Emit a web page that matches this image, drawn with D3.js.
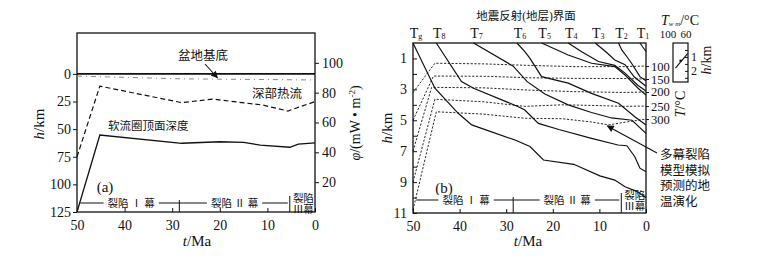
<!DOCTYPE html>
<html>
<head>
<meta charset="utf-8">
<script src="https://cdn.jsdelivr.net/npm/d3@7"></script>
<style>
  body { margin: 0; background: #fff; }
  svg { display: block; }
  text { font-family: "Liberation Serif", "Noto Sans CJK SC", serif; fill: #111; }
</style>
</head>
<body>
<svg id="chart" width="758" height="257"></svg>
<script>
// ---- data ----
const ageTicks = [50, 40, 30, 20, 10, 0]
const depthTicksA = [0, 25, 50, 75, 100, 125]
const flowTicks = [20, 40, 60, 80, 100]
const depthTicksB = [1, 2, 3, 4, 5, 6, 7, 8, 9, 10, 11]

// (a) asthenosphere top depth, km
const asthAge = [50, 45.2, 28, 20, 15, 11.5, 5.3, 3.5, 0]
const asthDepth = [125, 55.3, 62.8, 61.4, 62, 64.4, 66.4, 63.5, 62.4]
// (a) deep heat flow, mW/m2
const flowAge = [50, 45.2, 28, 21.5, 11, 5.7, 0]
const flowValue = [37, 84.4, 73.3, 75.7, 71.7, 67.7, 74]
// (a) basin basement, km
const baseAge = [50, 28, 0]
const baseDepth = [2, 4.5, 5.5]

// rifting phases
const phaseFrom = [50, 28.5, 5.3]
const phaseTo = [28.5, 5.3, 0]
const phaseNames = ["裂陷 Ⅰ 幕", "裂陷 Ⅱ 幕", "裂陷Ⅲ幕"]

// (b) seismic horizons: burial paths (age, depth)
const horizonNames = ["g", "8", "7", "6", "5", "4", "3", "2", "1"]
const horizonAge = [
  [50, 45.3, 40.3, 37.4, 28.1, 24.9, 22, 15.5, 9.9, 6.7, 4.5, 2, 0],
  [45, 39.6, 37, 27.4, 26, 23.1, 18.7, 11.7, 6, 4.1, 2.4, 1.3, 0],
  [37, 28.5, 25.5, 21.7, 16.7, 11.7, 7.4, 3, 0],
  [27.7, 26, 24.9, 22.4, 16.7, 11.7, 5.9, 2.4, 0],
  [22.4, 16.7, 11.7, 6.7, 4.5, 1.7, 0],
  [16.7, 13.8, 10.2, 6.7, 4.5, 1.7, 0],
  [10.9, 8.5, 6.7, 4.5, 2.5, 0],
  [5.9, 5.2, 4.1, 3.1, 1.3, 0],
  [1.3, 0]
]
const horizonDepth = [
  [0, 2.93, 4.55, 5.3, 6.28, 6.7, 7.57, 7.85, 8.6, 8.87, 9.3, 9.6, 10.0],
  [0, 2.5, 2.93, 4.12, 4.34, 5.2, 5.6, 6.17, 6.6, 6.65, 7.36, 8.1, 8.33],
  [0, 1.5, 2.5, 3.3, 4.0, 4.5, 4.85, 5.0, 5.85],
  [0, 0.56, 1.0, 2.18, 2.6, 3.26, 3.9, 4.77, 5.3],
  [0, 0.78, 1.31, 1.53, 2.07, 2.93, 3.37],
  [0, 0.56, 1.2, 1.45, 1.95, 2.75, 3.1],
  [0, 0.6, 1.1, 1.4, 2.2, 2.8],
  [0, 0.45, 0.89, 1.31, 2.18, 2.45],
  [0, 0.55]
]

// (b) isotherms (age, depth)
const isoTemps = [100, 150, 200, 250, 300]
const isoAge = [
  [50, 45.3, 35, 25, 15, 5, 0],
  [50, 45.6, 35, 25, 15, 5, 0],
  [50, 46, 35, 25, 15, 5, 0],
  [50, 45.3, 35, 26, 18, 10, 5, 0],
  [50, 45, 35, 26, 18, 12, 8, 4, 0]
]
const isoDepth = [
  [3.2, 1.31, 1.35, 1.45, 1.53, 1.53, 1.49],
  [5.0, 2.14, 2.15, 2.25, 2.29, 2.3, 2.33],
  [7.0, 2.87, 2.9, 3.05, 3.15, 3.2, 3.17],
  [9.0, 3.64, 3.8, 4.1, 4.0, 4.05, 4.1, 4.08],
  [10.8, 4.45, 4.6, 4.87, 4.9, 5.1, 5.3, 5.1, 4.92]
]

// inset: well temperature vs depth
const wellTicksT = [100, 60]
const wellTemp = [83.5, 56]
const wellDepth = [1.8, 0.75]
const wellDepthTicks = [0.5, 1, 1.5, 2, 2.5]

const noteLines = ["多幕裂陷", "模型模拟", "预测的地", "温演化"]

// ---- drawing ----
const svg = d3.select("#chart")

const xA = d3.scaleLinear().domain([50, 0]).range([77, 315])
const yA = d3.scaleLinear().domain([-37, 125]).range([33, 212])
const fA = d3.scaleLinear().domain([0, 120]).range([212, 33])

const xB = d3.scaleLinear().domain([50, 0]).range([413, 646])
const yB = d3.scaleLinear().domain([0, 11]).range([43, 213])

const defs = svg.append("defs")
defs.append("marker")
    .attr("id", "arrow")
    .attr("viewBox", "0 0 10 10")
    .attr("refX", 9).attr("refY", 5)
    .attr("markerWidth", 9).attr("markerHeight", 7)
    .attr("markerUnits", "userSpaceOnUse")
    .attr("orient", "auto")
  .append("path")
    .attr("d", "M0,0L10,5L0,10z")
    .attr("fill", "#111")

function styleAxis(g, size) {
  g.select(".domain").remove()
  g.selectAll(".tick line").attr("stroke", "#111")
  g.selectAll(".tick text").attr("font-size", size).attr("fill", "#111")
}

// ===== panel (a) =====
const ga = svg.append("g")

ga.append("g")
    .attr("transform", "translate(0,212)")
    .call(d3.axisBottom(xA).tickValues(ageTicks).tickSizeInner(-4).tickSizeOuter(0).tickPadding(8))
    .call(g => styleAxis(g, 14))

ga.append("g")
    .attr("transform", "translate(77,0)")
    .call(d3.axisLeft(yA).tickValues(depthTicksA).tickSize(4).tickSizeOuter(0).tickPadding(2))
    .call(g => styleAxis(g, 14))

ga.append("g")
    .attr("transform", "translate(315,0)")
    .call(d3.axisRight(fA).tickValues(flowTicks).tickSize(4).tickSizeOuter(0).tickPadding(3))
    .call(g => styleAxis(g, 14))

ga.append("rect")
    .attr("x", xA(50)).attr("y", 33)
    .attr("width", xA(0) - xA(50)).attr("height", 212 - 33)
    .attr("fill", "none").attr("stroke", "#111").attr("stroke-width", 1.3)

// surface line h=0
ga.append("line")
    .attr("x1", xA(50)).attr("x2", xA(0))
    .attr("y1", yA(0)).attr("y2", yA(0))
    .attr("stroke", "#111").attr("stroke-width", 1.6)

const lineA = d3.line().x(d => xA(d[0])).y(d => yA(d[1]))
const lineF = d3.line().x(d => xA(d[0])).y(d => fA(d[1]))

ga.append("path")
    .attr("d", lineA(d3.zip(baseAge, baseDepth)))
    .attr("fill", "none").attr("stroke", "#888").attr("stroke-width", 1)
    .attr("stroke-dasharray", "5,4,1,4")

ga.append("path")
    .attr("d", lineF(d3.zip(flowAge, flowValue)))
    .attr("fill", "none").attr("stroke", "#111").attr("stroke-width", 1.2)
    .attr("stroke-dasharray", "5,3")

ga.append("path")
    .attr("d", lineA(d3.zip(asthAge, asthDepth)))
    .attr("fill", "none").attr("stroke", "#111").attr("stroke-width", 1.3)

ga.append("text").attr("x", 203).attr("y", 60).attr("text-anchor", "middle")
    .attr("font-size", 12.5).text("盆地基底")
ga.append("line")
    .attr("x1", 205).attr("y1", 64)
    .attr("x2", xA(20.5)).attr("y2", yA(4.4) - 1)
    .attr("stroke", "#111").attr("stroke-width", 1.1)
    .attr("marker-end", "url(#arrow)")

ga.append("text").attr("x", 252).attr("y", 98).attr("font-size", 12.5).text("深部热流")
ga.append("text").attr("x", 108).attr("y", 130).attr("font-size", 11.5).text("软流圈顶面深度")
ga.append("text").attr("x", 105).attr("y", 192).attr("text-anchor", "middle")
    .attr("font-size", 15).text("(a)")

ga.append("text")
    .attr("transform", "translate(44,124) rotate(-90)")
    .attr("text-anchor", "middle").attr("font-size", 15)
    .call(t => {
      t.append("tspan").attr("font-style", "italic").text("h")
      t.append("tspan").text("/km")
    })

ga.append("text")
    .attr("transform", "translate(360,123) rotate(-90)")
    .attr("text-anchor", "middle").attr("font-size", 14)
    .call(t => {
      t.append("tspan").attr("font-style", "italic").text("φ")
      t.append("tspan").text("/(mW • m")
      t.append("tspan").attr("font-size", 9).attr("dy", -5).text("-2")
      t.append("tspan").attr("dy", 5).text(")")
    })

ga.append("text")
    .attr("x", 197).attr("y", 246).attr("text-anchor", "middle").attr("font-size", 15)
    .call(t => {
      t.append("tspan").attr("font-style", "italic").text("t")
      t.append("tspan").text("/Ma")
    })

// phase bar
function phaseBar(g, x, barY, bottom) {
  const bounds = phaseFrom.slice(1)
  g.append("line")
      .attr("x1", x(49.3)).attr("x2", x(phaseTo[1]) - 2)
      .attr("y1", barY).attr("y2", barY)
      .attr("stroke", "#111").attr("stroke-width", 1)
  bounds.forEach((b, i) => {
    g.append("line")
        .attr("x1", x(b)).attr("x2", x(b))
        .attr("y1", barY - (i ? 7 : 3)).attr("y2", bottom)
        .attr("stroke", "#111").attr("stroke-width", 1)
  })
  for (let i = 0; i < 2; i++) {
    const cx = (x(phaseFrom[i]) + x(phaseTo[i])) / 2 + (i === 0 ? 3 : 0)
    const lg = g.append("g")
    const bg = lg.append("rect").attr("fill", "#fff")
    const t = lg.append("text")
        .attr("x", cx).attr("y", barY + 3.5)
        .attr("text-anchor", "middle").attr("font-size", 10.5)
        .text(phaseNames[i])
    const w = t.node().getComputedTextLength()
    bg.attr("x", cx - w / 2 - 4).attr("y", barY - 5)
      .attr("width", w + 8).attr("height", 10)
  }
  const cx3 = (x(phaseFrom[2]) + x(phaseTo[2])) / 2 + 1
  g.append("text").attr("x", cx3).attr("y", barY - 1)
      .attr("text-anchor", "middle").attr("font-size", 10.5).text(phaseNames[2].slice(0, 2))
  g.append("text").attr("x", cx3).attr("y", barY + 10)
      .attr("text-anchor", "middle").attr("font-size", 10.5).text(phaseNames[2].slice(2))
}
phaseBar(ga, xA, 203, 212)

// ===== panel (b) =====
const gb = svg.append("g")

gb.append("g")
    .attr("transform", "translate(0,213)")
    .call(d3.axisBottom(xB).tickValues(ageTicks).tickSizeInner(-4).tickSizeOuter(0).tickPadding(8))
    .call(g => styleAxis(g, 14))

gb.append("g")
    .attr("transform", "translate(413,0)")
    .call(d3.axisLeft(yB).tickValues(depthTicksB).tickSizeInner(-4).tickSizeOuter(0).tickPadding(6)
      .tickFormat(d => d % 2 ? d : ""))
    .call(g => styleAxis(g, 14))

gb.append("g")
    .attr("transform", "translate(646,0)")
    .call(d3.axisRight(yB)
      .tickValues(isoDepth.map(a => a[a.length - 1]))
      .tickSize(3).tickSizeOuter(0).tickPadding(2)
      .tickFormat((d, i) => isoTemps[i]))
    .call(g => styleAxis(g, 12.5))

gb.append("rect")
    .attr("x", xB(50)).attr("y", yB(0))
    .attr("width", xB(0) - xB(50)).attr("height", yB(11) - yB(0))
    .attr("fill", "none").attr("stroke", "#111").attr("stroke-width", 1.3)

const lineB = d3.line().x(d => xB(d[0])).y(d => yB(d[1]))

gb.append("g").selectAll("path")
  .data(isoAge.map((a, i) => d3.zip(a, isoDepth[i])))
  .join("path")
    .attr("d", lineB)
    .attr("fill", "none").attr("stroke", "#111").attr("stroke-width", 0.9)
    .attr("stroke-dasharray", "2.2,1.6")

gb.append("g").selectAll("path")
  .data(horizonAge.map((a, i) => d3.zip(a, horizonDepth[i])))
  .join("path")
    .attr("d", lineB)
    .attr("fill", "none").attr("stroke", "#111").attr("stroke-width", 1.2)

// horizon labels along top
gb.append("g").selectAll("text")
  .data(horizonNames)
  .join("text")
    .attr("x", (d, i) => xB(horizonAge[i][0]) + 3)
    .attr("y", 38)
    .attr("text-anchor", "middle").attr("font-size", 14)
    .each(function (d) {
      const t = d3.select(this)
      t.append("tspan").text("T")
      t.append("tspan").attr("font-size", 8).attr("dy", 1).text(d)
    })

gb.append("text").attr("x", 526).attr("y", 20).attr("text-anchor", "middle")
    .attr("font-size", 11.5).text("地震反射(地层)界面")

gb.append("text").attr("x", 444).attr("y", 193).attr("text-anchor", "middle")
    .attr("font-size", 15).text("(b)")

gb.append("text")
    .attr("transform", "translate(392,128) rotate(-90)")
    .attr("text-anchor", "middle").attr("font-size", 15)
    .call(t => {
      t.append("tspan").attr("font-style", "italic").text("h")
      t.append("tspan").text("/km")
    })

gb.append("text")
    .attr("x", 528).attr("y", 246).attr("text-anchor", "middle").attr("font-size", 15)
    .call(t => {
      t.append("tspan").attr("font-style", "italic").text("t")
      t.append("tspan").text("/Ma")
    })

gb.append("text")
    .attr("transform", "translate(685,104) rotate(-90)")
    .attr("text-anchor", "middle").attr("font-size", 14)
    .call(t => {
      t.append("tspan").attr("font-style", "italic").text("T")
      t.append("tspan").text("/°C")
    })

phaseBar(gb, xB, 200, 213)

// pointer to the isotherms
noteLines.forEach((s, i) => {
  gb.append("text").attr("x", 660).attr("y", 159 + i * 15.5)
      .attr("font-size", 12.5).text(s)
})
gb.append("line")
    .attr("x1", 657).attr("y1", 153)
    .attr("x2", xB(8.3)).attr("y2", yB(5.3) + 1)
    .attr("stroke", "#111").attr("stroke-width", 1.1)
    .attr("marker-end", "url(#arrow)")

// ===== inset =====
const xI = d3.scaleLinear().domain([100, 60]).range([668, 686])
const yI = d3.scaleLinear().domain([0, 2.8]).range([43, 82])
const gi = svg.append("g")

gi.append("rect")
    .attr("x", 673).attr("y", yI(0))
    .attr("width", 15).attr("height", yI(2.8) - yI(0))
    .attr("fill", "none").attr("stroke", "#111").attr("stroke-width", 1.2)

gi.append("g")
    .attr("transform", "translate(688,0)")
    .call(d3.axisLeft(yI).tickValues(wellDepthTicks).tickSize(3).tickSizeOuter(0)
      .tickFormat(() => ""))
    .call(g => styleAxis(g, 11))

gi.selectAll(".lab").data([1, 2]).join("text")
    .attr("x", 691).attr("y", d => yI(d) + 4)
    .attr("font-size", 12).text(d => d)

gi.selectAll(".tt").data(wellTicksT).join("text")
    .attr("x", d => xI(d)).attr("y", 38)
    .attr("text-anchor", "middle").attr("font-size", 11).text(d => d)

gi.append("path")
    .attr("d", d3.line().x(d => xI(d[0])).y(d => yI(d[1]))(d3.zip(wellTemp, wellDepth)))
    .attr("fill", "none").attr("stroke", "#111").attr("stroke-width", 1.1)
gi.append("circle")
    .attr("cx", xI(d3.mean(wellTemp)) - 1).attr("cy", yI(d3.mean(wellDepth)))
    .attr("r", 1.3).attr("fill", "#111")

gi.append("text").attr("x", 680).attr("y", 25).attr("text-anchor", "middle")
    .attr("font-size", 14)
    .call(t => {
      t.append("tspan").attr("font-style", "italic").text("T")
      t.append("tspan").attr("font-size", 7).attr("dy", 1).attr("font-style", "italic").text("w m")
      t.append("tspan").attr("dy", -1).text("/°C")
    })

gi.append("text")
    .attr("transform", "translate(711,60) rotate(-90)")
    .attr("text-anchor", "middle").attr("font-size", 14)
    .call(t => {
      t.append("tspan").attr("font-style", "italic").text("h")
      t.append("tspan").text("/km")
    })
</script>
</body>
</html>
